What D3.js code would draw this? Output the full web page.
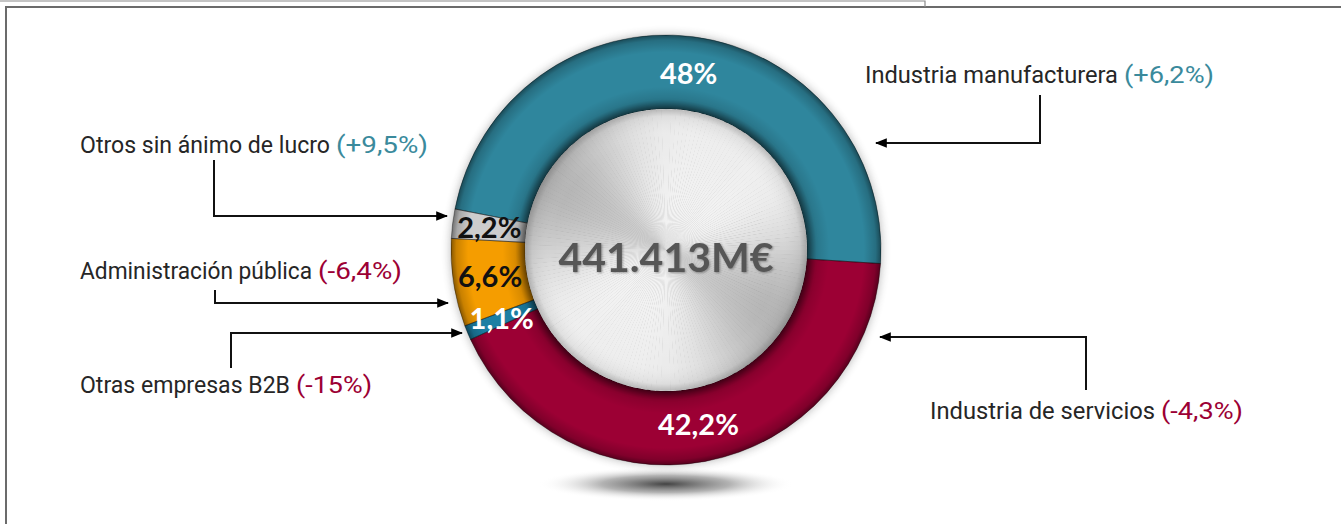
<!DOCTYPE html>
<html>
<head>
<meta charset="utf-8">
<script src="https://cdn.jsdelivr.net/npm/d3@7"></script>
<style>
  body { margin: 0; background: #fff; }
  svg { display: block; }
</style>
</head>
<body>
<script>
// data
var sectors = ["Industria manufacturera", "Industria de servicios", "Otras empresas B2B", "Administración pública", "Otros sin ánimo de lucro"];
var shares = [48, 42.2, 1.1, 6.6, 2.2];
var shareLabels = ["48%", "42,2%", "1,1%", "6,6%", "2,2%"];
var changes = ["(+6,2%)", "(-4,3%)", "(-15%)", "(-6,4%)", "(+9,5%)"];
var total = "441.413M€";

var colors = ["#2f869d", "#9c0034", "#1c7fa3", "#f59d00", "#cdcdcd"];
var labelColors = ["#fff", "#fff", "#fff", "#111", "#111"];
var changeColors = ["#3a8a9c", "#9c0034", "#9c0034", "#9c0034", "#3a8a9c"];

// label / arrow layout: text start, text width, bracket width, arrow points
var layout = [
  { x: 865, y: 83, w: 253, bw: 90, pts: [[1040, 95], [1040, 143], [876, 143]] },
  { x: 930, y: 419, w: 225, bw: 82, pts: [[1086, 390], [1086, 337], [880, 337]] },
  { x: 80, y: 393, w: 210, bw: 76, pts: [[231, 368], [231, 333], [462, 333]] },
  { x: 80, y: 279, w: 232, bw: 84, pts: [[215, 290], [215, 303], [448, 303]] },
  { x: 80, y: 153, w: 250, bw: 92, pts: [[214, 160], [214, 216], [447, 216]] }
];

var W = 1341, H = 524;
var cx = 666, cy = 250, R = 215, r0 = 141;

var svg = d3.select("body").append("svg")
  .attr("width", W)
  .attr("height", H);

var defs = svg.append("defs");

// ring shading (gradient in the ring group's coordinates)
var ringGrad = defs.append("radialGradient")
  .attr("id", "ringShade")
  .attr("gradientUnits", "userSpaceOnUse")
  .attr("cx", 0).attr("cy", 0).attr("r", R);
[[0, 0.45], [r0 / R, 0.45], [0.70, 0.12], [0.76, 0], [0.92, 0], [0.975, 0.18], [1, 0.45]].forEach(function (s) {
  ringGrad.append("stop").attr("offset", s[0]).attr("stop-color", "#000").attr("stop-opacity", s[1]);
});

var shadowGrad = defs.append("radialGradient").attr("id", "floorShadow");
shadowGrad.append("stop").attr("offset", 0).attr("stop-color", "#222").attr("stop-opacity", 0.85);
shadowGrad.append("stop").attr("offset", 0.5).attr("stop-color", "#555").attr("stop-opacity", 0.45);
shadowGrad.append("stop").attr("offset", 1).attr("stop-color", "#fff").attr("stop-opacity", 0);

var discGrad = defs.append("radialGradient").attr("id", "discGlow");
discGrad.append("stop").attr("offset", 0).attr("stop-color", "#fff").attr("stop-opacity", 0.45);
discGrad.append("stop").attr("offset", 0.8).attr("stop-color", "#fff").attr("stop-opacity", 0);
discGrad.append("stop").attr("offset", 0.95).attr("stop-color", "#000").attr("stop-opacity", 0.06);
discGrad.append("stop").attr("offset", 1).attr("stop-color", "#000").attr("stop-opacity", 0.22);

var blur = defs.append("filter").attr("id", "soft").attr("x", "-20%").attr("y", "-20%").attr("width", "140%").attr("height", "140%");
blur.append("feGaussianBlur").attr("stdDeviation", 4);

var txtShadow = defs.append("filter").attr("id", "txtShadow");
txtShadow.append("feDropShadow").attr("dx", 1).attr("dy", 1).attr("stdDeviation", 0.8)
  .attr("flood-color", "#000").attr("flood-opacity", 0.35);

defs.append("marker")
  .attr("id", "arrow")
  .attr("viewBox", "0 0 10 10")
  .attr("refX", 9).attr("refY", 5)
  .attr("markerWidth", 6).attr("markerHeight", 6)
  .attr("markerUnits", "strokeWidth")
  .attr("orient", "auto")
  .append("path")
  .attr("d", "M0,1 L10,5 L0,9 Z")
  .attr("fill", "#000");

// frame
svg.append("path")
  .attr("d", "M6,524 V7 H1341")
  .attr("fill", "none").attr("stroke", "#6b6b6b").attr("stroke-width", 2);
svg.append("path")
  .attr("d", "M0,1 H925 V7")
  .attr("fill", "none").attr("stroke", "#8a8a8a").attr("stroke-width", 1.2);

// floor shadow
svg.append("ellipse")
  .attr("cx", cx).attr("cy", 484).attr("rx", 128).attr("ry", 17)
  .attr("fill", "url(#floorShadow)");

var g = svg.append("g").attr("transform", "translate(" + cx + "," + cy + ")");

var startA = -79 * Math.PI / 180;
var pie = d3.pie().sort(null).value(function (d) { return d; })
  .startAngle(startA).endAngle(startA + 2 * Math.PI);
var arcs = pie(shares);

var arc = d3.arc().innerRadius(r0).outerRadius(R);
var labelArc = d3.arc().innerRadius(178).outerRadius(178);

g.append("circle").attr("r", R + 1).attr("fill", "#333").attr("opacity", 0.3)
  .attr("filter", "url(#soft)");

g.selectAll("path.slice")
  .data(arcs)
  .enter().append("path")
  .attr("class", "slice")
  .attr("d", arc)
  .attr("fill", function (d, i) { return colors[i]; });

g.selectAll("path.shade")
  .data(arcs)
  .enter().append("path")
  .attr("class", "shade")
  .attr("d", arc)
  .attr("fill", "url(#ringShade)");

g.selectAll("path.edge")
  .data(arcs)
  .enter().append("path")
  .attr("class", "edge")
  .attr("d", arc)
  .attr("fill", "none")
  .attr("stroke", "rgba(0,0,0,0.35)")
  .attr("stroke-width", 1);

// metal disc: brushed look from thin wedges
g.append("circle").attr("r", r0 + 2).attr("fill", "#000").attr("opacity", 0.4).attr("filter", "url(#soft)");
var nW = 180;
var wedge = d3.arc().innerRadius(0).outerRadius(r0);
var wedges = d3.range(nW).map(function (k) {
  var a0 = k * 2 * Math.PI / nW;
  return { startAngle: a0, endAngle: a0 + 2 * Math.PI / nW + 0.004 };
});
g.selectAll("path.metal")
  .data(wedges)
  .enter().append("path")
  .attr("class", "metal")
  .attr("d", wedge)
  .attr("fill", function (d) {
    var m = (d.startAngle + d.endAngle) / 2;
    var v = 218 + 28 * Math.cos(2 * (m - 0.55)) + 8 * Math.cos(4 * m + 1);
    v = Math.round(Math.max(160, Math.min(250, v)));
    return "rgb(" + v + "," + v + "," + v + ")";
  });
g.append("circle").attr("r", r0).attr("fill", "url(#discGlow)");

// center total
g.append("text")
  .attr("x", 0).attr("y", 22)
  .attr("text-anchor", "middle")
  .style("font-family", "Lato, 'Open Sans', sans-serif")
  .style("font-weight", "bold")
  .style("font-size", "41px")
  .attr("fill", "#575757")
  .attr("filter", "url(#txtShadow)")
  .text(total);

// share labels
g.selectAll("text.share")
  .data(arcs)
  .enter().append("text")
  .attr("class", "share")
  .attr("transform", function (d) { return "translate(" + labelArc.centroid(d) + ")"; })
  .attr("dy", "0.35em")
  .attr("text-anchor", "middle")
  .style("font-family", "Lato, 'Open Sans', sans-serif")
  .style("font-weight", "bold")
  .style("font-size", "29px")
  .attr("fill", function (d, i) { return labelColors[i]; })
  .text(function (d, i) { return shareLabels[i]; });

// side labels
var lab = svg.selectAll("g.lab")
  .data(sectors)
  .enter().append("g")
  .attr("class", "lab");

lab.append("text")
  .attr("x", function (d, i) { return layout[i].x; })
  .attr("y", function (d, i) { return layout[i].y; })
  .attr("textLength", function (d, i) { return layout[i].w; })
  .attr("lengthAdjust", "spacingAndGlyphs")
  .style("font-family", "Roboto, 'DejaVu Sans Condensed', sans-serif")
  .style("font-size", "23px")
  .attr("fill", "#262626")
  .text(function (d) { return d; });

lab.append("text")
  .attr("x", function (d, i) { return layout[i].x + layout[i].w + 6; })
  .attr("y", function (d, i) { return layout[i].y; })
  .attr("textLength", function (d, i) { return layout[i].bw; })
  .attr("lengthAdjust", "spacingAndGlyphs")
  .style("font-family", "Roboto, 'DejaVu Sans Condensed', sans-serif")
  .style("font-size", "23px")
  .attr("fill", function (d, i) { return changeColors[i]; })
  .text(function (d, i) { return changes[i]; });

// arrows
var line = d3.line();
lab.append("path")
  .attr("d", function (d, i) { return line(layout[i].pts); })
  .attr("fill", "none")
  .attr("stroke", "#111")
  .attr("stroke-width", 2)
  .attr("marker-end", "url(#arrow)");
</script>
</body>
</html>
